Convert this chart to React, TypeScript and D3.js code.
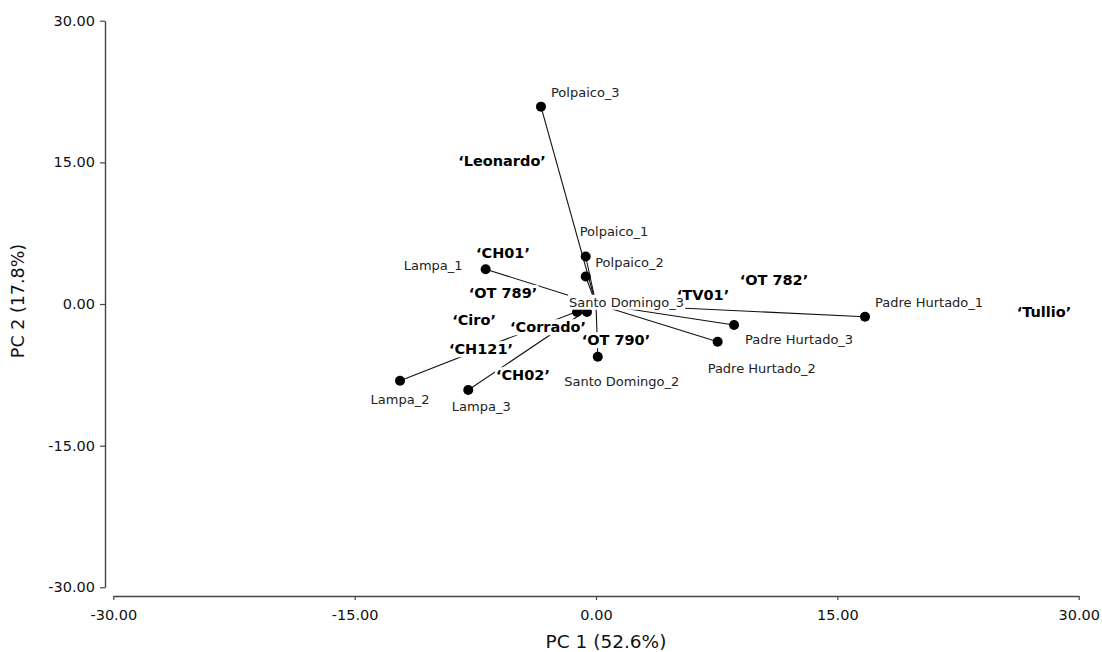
import React, { useEffect, useRef } from 'react';
import * as d3 from 'd3';

// sample scores (PC1, PC2)
const sampleNames = [
  'Polpaico_1', 'Polpaico_2', 'Polpaico_3',
  'Lampa_1', 'Lampa_2', 'Lampa_3',
  'Santo Domingo_1', 'Santo Domingo_2', 'Santo Domingo_3',
  'Padre Hurtado_1', 'Padre Hurtado_2', 'Padre Hurtado_3',
];
const sampleShown = [true, true, true, true, true, true, false, true, true, true, true, true];
const pc1Scores = [-0.64, -0.64, -3.42, -6.86, -12.18, -7.94, -0.56, 0.11, -1.18, 16.72, 7.56, 8.58];
const pc2Scores = [5.03, 2.91, 20.9, 3.68, -8.13, -9.11, -0.85, -5.58, -0.85, -1.35, -3.99, -2.23];

// cultivar labels (PC1, PC2)
const cultivars = ['Leonardo', 'CH01', 'OT 789', 'Ciro', 'Corrado', 'CH121', 'CH02', 'OT 790', 'TV01', 'OT 782', 'Tullio'];
const cultivarPc1 = [-5.84, -5.78, -5.78, -7.58, -2.98, -7.15, -4.54, 1.24, 6.65, 11.06, 27.84];
const cultivarPc2 = [15.15, 5.4, 1.17, -1.69, -2.44, -4.77, -7.52, -3.81, 0.95, 2.54, -0.85];

const centroid = [0, 0];
const ticks = [-30, -15, 0, 15, 30];
const xTitle = 'PC 1 (52.6%)';
const yTitle = 'PC 2 (17.8%)';

// where each sample name sits relative to its point (pixels)
const labelPlace: [string, number, number][] = [
  ['start', -6, -25], ['start', 9.5, -14], ['start', 10, -14],
  ['end', -23, -4], ['middle', 0, 19], ['middle', 13, 16],
  ['start', 0, 0], ['middle', 24, 25], ['start', -8, -10],
  ['start', 10, -14], ['start', -10, 27], ['start', 11, 14],
];

const W = 1102;
const H = 652;
const FONT = 'DejaVu Sans, Verdana, sans-serif';

function Biplot() {
  const ref = useRef<SVGSVGElement>(null);

  useEffect(() => {
    const svg = d3.select(ref.current);
    svg.selectAll('*').remove();

    const x = d3.scaleLinear().domain([-30, 30]).range([113.3, 1078.7]);
    const y = d3.scaleLinear().domain([-30, 30]).range([587.3, 20.7]);

    svg.append('rect').attr('width', W).attr('height', H).attr('fill', '#fff');

    // axes (SPSS style, detached at the corner)
    const fmt = (d: any) => (+d).toFixed(2);
    const yAxis = svg.append('g')
      .attr('transform', 'translate(105,0)')
      .call(d3.axisLeft(y).tickValues(ticks).tickFormat(fmt).tickSize(5).tickSizeOuter(0).tickPadding(5));
    const xAxis = svg.append('g')
      .attr('transform', 'translate(0,596)')
      .call(d3.axisBottom(x).tickValues(ticks).tickFormat(fmt).tickSize(4).tickSizeOuter(0).tickPadding(10));
    [xAxis, yAxis].forEach(g => {
      g.select('.domain').attr('stroke', '#444').attr('stroke-width', 1.4);
      g.selectAll('.tick line').attr('stroke', '#444').attr('stroke-width', 1.2);
      g.selectAll('.tick text')
        .attr('fill', '#111')
        .style('font-family', FONT)
        .style('font-size', '14.5px');
    });

    svg.append('text')
      .attr('x', 606).attr('y', 648)
      .attr('text-anchor', 'middle')
      .style('font-family', FONT).style('font-size', '18.5px').attr('fill', '#111')
      .text(xTitle);
    svg.append('text')
      .attr('transform', 'translate(24,301) rotate(-90)')
      .attr('text-anchor', 'middle')
      .style('font-family', FONT).style('font-size', '17.5px').attr('fill', '#111')
      .text(yTitle);

    const samples = sampleNames.map((name, i) => ({
      name, shown: sampleShown[i], px: pc1Scores[i], py: pc2Scores[i], place: labelPlace[i],
    }));

    // spider lines to the centroid
    svg.append('g').selectAll('line')
      .data(samples)
      .enter()
      .append('line')
      .attr('x1', d => x(d.px)).attr('y1', d => y(d.py))
      .attr('x2', x(centroid[0])).attr('y2', y(centroid[1]))
      .attr('stroke', '#111').attr('stroke-width', 1.1);

    svg.append('g').selectAll('circle')
      .data(samples)
      .enter()
      .append('circle')
      .attr('cx', d => x(d.px)).attr('cy', d => y(d.py))
      .attr('r', 5)
      .attr('fill', '#000');

    // labels: white boxes first (they hide lines under them), texts on top of all boxes
    const boxes = svg.append('g');
    const texts = svg.append('g');
    const addLabel = (tx: number, ty: number, text: string, anchor: string, bold: boolean) => {
      const t = texts.append('text')
        .attr('x', tx).attr('y', ty).attr('dy', '0.36em')
        .attr('text-anchor', anchor)
        .style('font-family', FONT)
        .style('font-size', bold ? '14.5px' : '13px')
        .style('font-weight', bold ? 'bold' : 'normal')
        .attr('fill', bold ? '#000' : '#222')
        .text(text);
      const b = (t.node() as SVGTextElement).getBBox();
      boxes.append('rect')
        .attr('x', b.x - 1).attr('y', b.y)
        .attr('width', b.width + 2).attr('height', b.height)
        .attr('fill', '#fff');
    };

    samples.filter(d => d.shown).forEach(d => {
      const [anchor, dx, dy] = d.place;
      addLabel(x(d.px) + dx, y(d.py) + dy, d.name, anchor, false);
    });
    cultivars.forEach((c, i) => {
      addLabel(x(cultivarPc1[i]), y(cultivarPc2[i]), `\u2018${c}\u2019`, 'middle', true);
    });
  }, []);

  return (
    <svg ref={ref} width={W} height={H} style={{ position: 'absolute', left: 0, top: 0, display: 'block' }} />
  );
}

export default function App() {
  return <Biplot />;
}
